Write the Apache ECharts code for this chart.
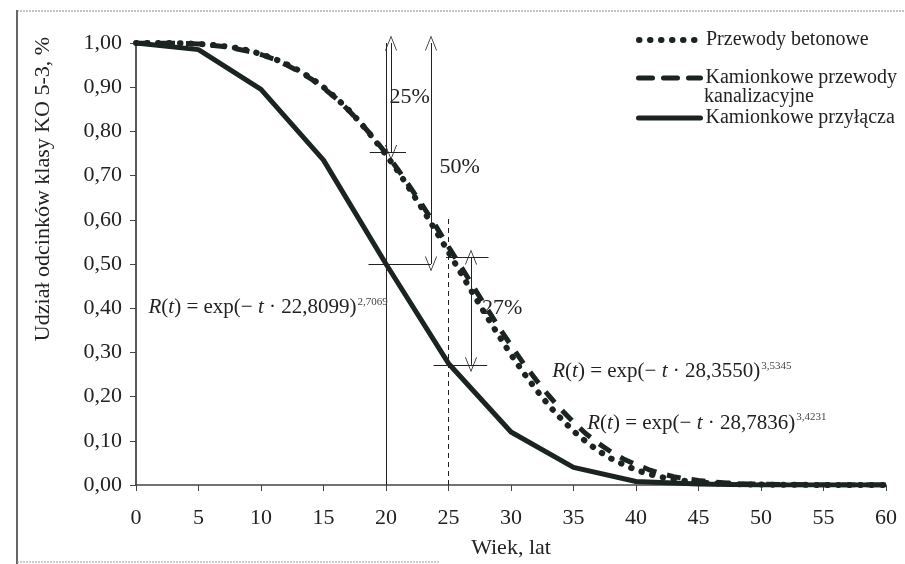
<!DOCTYPE html>
<html>
<head>
<meta charset="utf-8">
<script src="https://cdn.jsdelivr.net/npm/echarts@6/dist/echarts.min.js"></script>
<style>html,body{margin:0;padding:0;background:#fff}#c{width:905px;height:564px}</style>
</head>
<body>
<div id="c"></div>
<script>
// ---- data ----
const ageFine = [0,1,2,3,4,5,6,7,8,9,10,11,12,13,14,15,16,17,18,19,20,21,22,23,24,25,26,27,28,29,30,31,32,33,34,35,36,37,38,39,40,41,42,43,44,45,46,47,48,49,50,55,60];
const betonowe = [1.000,1.000,1.000,1.000,0.999,0.998,0.996,0.993,0.989,0.983,0.975,0.965,0.953,0.938,0.921,0.900,0.876,0.849,0.818,0.784,0.747,0.708,0.665,0.621,0.574,0.527,0.479,0.431,0.384,0.339,0.295,0.254,0.216,0.181,0.150,0.122,0.098,0.077,0.060,0.046,0.034,0.025,0.018,0.013,0.009,0.006,0.004,0.003,0.002,0.001,0.001,0,0];
const kanalizacyjne = [1.000,1.000,1.000,1.000,0.999,0.998,0.995,0.992,0.987,0.981,0.974,0.964,0.951,0.936,0.919,0.898,0.875,0.848,0.818,0.786,0.750,0.712,0.671,0.629,0.585,0.539,0.494,0.448,0.403,0.358,0.316,0.275,0.238,0.203,0.171,0.142,0.116,0.094,0.075,0.059,0.046,0.035,0.026,0.019,0.014,0.010,0.007,0.005,0.003,0.002,0.002,0,0];
const age5 = [0,5,10,15,20,25,30,35,40,45,50,55,60];
const przylacza = [1.00,0.985,0.895,0.735,0.50,0.275,0.12,0.04,0.008,0.002,0,0,0];
const seriesNames = ['Przewody betonowe','Kamionkowe przewody kanalizacyjne','Kamionkowe przyłącza'];
const legendLines = ['Przewody betonowe','Kamionkowe przewody','kanalizacyjne','Kamionkowe przyłącza'];
const xTicks = [0,5,10,15,20,25,30,35,40,45,50,55,60];

const FONT = 'Liberation Serif';
const INK = '#1b2420';
const V = 'path://M10,0 L20,24 L18.6,24 L10,3.2 L1.4,24 L0,24 Z';

const chart = echarts.init(document.getElementById('c'), null, {renderer:'canvas'});
const pair = (xs, ys) => xs.map((x,i)=>[x, ys[i]]);

const thin = {color:'#222', width:1, type:'solid'};
function seg(a, b, opt) {
  opt = opt || {};
  return [
    {coord:a, symbol: opt.arrow ? V : 'none', symbolSize:[12,15], lineStyle: Object.assign({}, thin, opt.style||{})},
    {coord:b, symbol: opt.arrow ? V : 'none', symbolSize:[12,15]}
  ];
}
const legTxt = {fontFamily:FONT, fontSize:20, color:'#222', lineHeight:19};
function leg(name, top, lw, fmt) {
  return {data:[name], orient:'vertical', left:636, top:top, padding:0, itemGap:0,
    itemWidth:62, itemHeight:12, selectedMode:false, textStyle:legTxt,
    itemStyle:{opacity:0},
    lineStyle:{width:lw, color:INK, type:'inherit', cap:'round'},
    formatter: fmt ? (() => fmt) : undefined};
}

const option = {
  animation:false,
  textStyle:{fontFamily:FONT},
  grid:{left:136, right:19, top:43, bottom:79},
  legend:[
    leg(seriesNames[0], 30, 6),
    leg(seriesNames[1], 68, 5, legendLines[1]),
    leg(seriesNames[2], 108, 5)
  ],
  xAxis:{
    type:'value', min:0, max:60, interval:5,
    name:'Wiek, lat', nameLocation:'middle', nameGap:52,
    nameTextStyle:{fontFamily:FONT, fontSize:22, color:'#222'},
    axisLine:{lineStyle:{color:'#444', width:1.5}},
    axisTick:{inside:false, length:6, lineStyle:{color:'#444'}},
    axisLabel:{fontFamily:FONT, fontSize:22, color:'#222', margin:22},
    splitLine:{show:false}
  },
  yAxis:{
    type:'value', min:0, max:1, interval:0.1,
    name:'Udział odcinków klasy KO 5-3, %', nameLocation:'middle', nameGap:82, nameRotate:90,
    nameTextStyle:{fontFamily:FONT, fontSize:22, color:'#222', padding:[0,0,0,150]},
    axisLine:{lineStyle:{color:'#222', width:1.5}},
    axisTick:{length:6, lineStyle:{color:'#444'}},
    axisLabel:{fontFamily:FONT, fontSize:22, color:'#222', margin:14, formatter: v => v.toFixed(2).replace('.', ',')},
    splitLine:{show:false}
  },
  series:[
    {name:seriesNames[1], type:'line', data:pair(ageFine, kanalizacyjne), showSymbol:false, symbol:'none',
     lineStyle:{color:INK, width:5, type:[14,11], cap:'butt'}, itemStyle:{color:INK}, z:2},
    {name:seriesNames[0], type:'line', data:pair(ageFine, betonowe), showSymbol:false, symbol:'none',
     lineStyle:{color:INK, width:6, type:[0.5,10.5], cap:'round'}, itemStyle:{color:INK}, z:3},
    {name:seriesNames[2], type:'line', data:pair(age5, przylacza), showSymbol:false, symbol:'none',
     lineStyle:{color:INK, width:5, type:'solid'}, itemStyle:{color:INK}, z:4,
     markLine:{silent:true, animation:false, label:{show:false}, emphasis:{disabled:true},
       data:[
         seg([20,0],[20,1.0]),
         seg([20.4,1.0],[20.4,0.752],{arrow:true}),
         seg([18.7,0.752],[21.6,0.752]),
         seg([23.6,1.0],[23.6,0.50],{arrow:true}),
         seg([18.6,0.50],[23.6,0.50]),
         seg([25,0],[25,0.61],{style:{type:[5,4]}}),
         seg([24.8,0.516],[28.2,0.516]),
         seg([26.8,0.516],[26.8,0.272],{arrow:true}),
         seg([23.8,0.272],[28.1,0.272])
       ]}
    }
  ]
};
chart.setOption(option);

// annotation texts anchored in data coordinates
const P = (t,v) => chart.convertToPixel({gridIndex:0}, [t,v]);
const rich = {
  it:{fontFamily:FONT, fontStyle:'italic', fontSize:21, fill:'#222'},
  n:{fontFamily:FONT, fontSize:21, fill:'#222'},
  sup:{fontFamily:FONT, fontSize:11, fill:'#444', verticalAlign:'top', padding:[0,0,12,1]}
};
function eq(t, v, eta, beta) {
  const p = P(t, v);
  return {type:'text', left:p[0], top:p[1]-12, z:100, silent:true,
    style:{text:'{it|R}{n|(}{it|t}{n|) = exp(− }{it|t}{n| · ' + eta + ')}{sup|' + beta + '}', rich:rich}};
}
function pct(t, v, s) {
  const p = P(t, v);
  return {type:'text', x:p[0], y:p[1], z:100, silent:true,
    style:{text:s, fontFamily:FONT, fontSize:22, fill:'#222', align:'center', verticalAlign:'middle'}};
}
chart.setOption({graphic:[
  eq(1.0, 0.40, '22,8099', '2,7069'),
  eq(33.3, 0.255, '28,3550', '3,5345'),
  eq(36.1, 0.138, '28,7836', '3,4231'),
  pct(21.9, 0.878, '25%'),
  pct(25.9, 0.72, '50%'),
  pct(29.3, 0.40, '27%'),
  {type:'text', x:704, y:97, z:100, silent:true,
   style:{text:legendLines[2], fontFamily:FONT, fontSize:20, fill:'#222', align:'left', verticalAlign:'middle'}},
  {type:'line', silent:true, z:0, shape:{x1:17, y1:10, x2:17, y2:564}, style:{stroke:'#333', lineWidth:1.5}},
  {type:'line', silent:true, z:0, shape:{x1:17, y1:11, x2:905, y2:11}, style:{stroke:'#888', lineWidth:1, lineDash:[2,1]}},
  {type:'line', silent:true, z:0, shape:{x1:17, y1:562, x2:440, y2:562}, style:{stroke:'#999', lineWidth:1, lineDash:[2,1]}}
]});
</script>
</body>
</html>
